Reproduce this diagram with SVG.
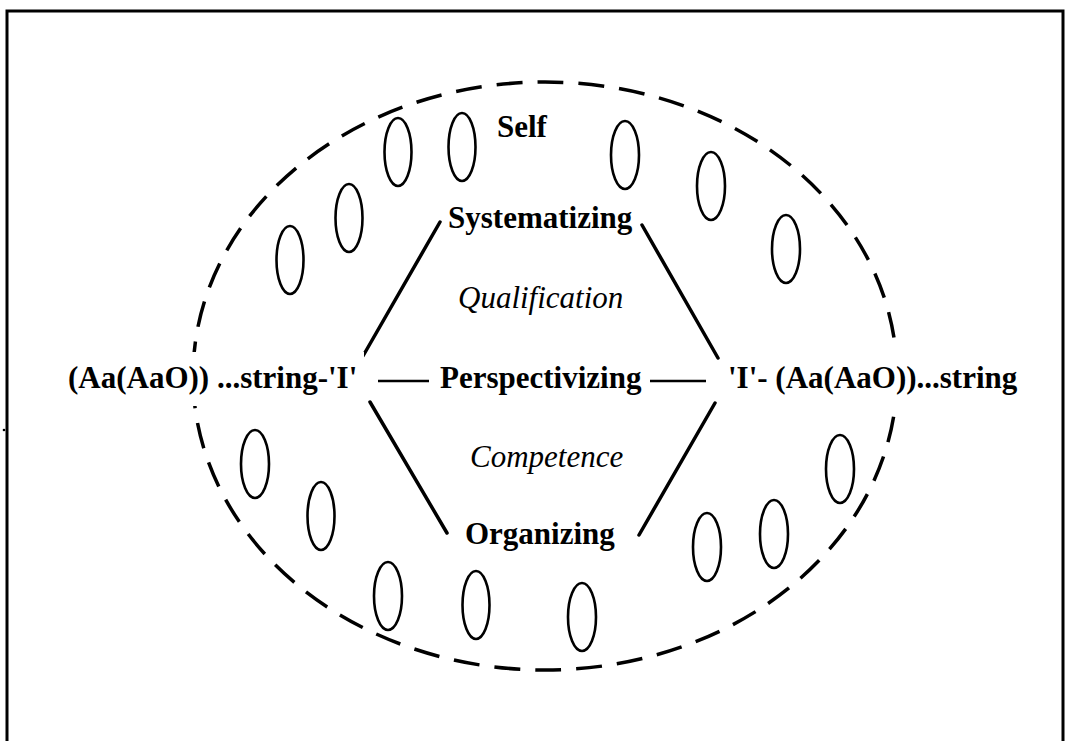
<svg xmlns="http://www.w3.org/2000/svg" width="1077" height="741" viewBox="0 0 1077 741">
<style>
.lbl{font-family:"Liberation Serif","Times New Roman",serif;font-size:31px;fill:#000;font-weight:bold}
.it{font-family:"Liberation Serif","Times New Roman",serif;font-size:31px;fill:#000;font-style:italic}
.oval{fill:none;stroke:#000;stroke-width:2.6}
.edge{stroke:#000;stroke-width:3.5;stroke-linecap:round;fill:none}
.dash{stroke:#000;stroke-width:2.5;fill:none}
.bg{fill:#fff}
</style>
<rect width="1077" height="741" fill="#fff"/>
<g id="frame" fill="none" stroke="#000" stroke-width="3">
<polyline points="7,741 7,11 1063,11 1063,741"/>
</g>
<circle cx="4" cy="430" r="1.3" fill="#000"/>
<g id="self-boundary">
<ellipse cx="545" cy="376" rx="352" ry="294" fill="none" stroke="#000" stroke-width="3.5" stroke-dasharray="26 15"/>
</g>
<g id="elements">
<ellipse class="oval" cx="398" cy="152" rx="13.5" ry="34"/>
<ellipse class="oval" cx="462" cy="147" rx="13.5" ry="34"/>
<ellipse class="oval" cx="349" cy="218" rx="13.5" ry="34"/>
<ellipse class="oval" cx="290" cy="260" rx="13.5" ry="34"/>
<ellipse class="oval" cx="625" cy="155" rx="14" ry="34"/>
<ellipse class="oval" cx="711" cy="186" rx="14" ry="34"/>
<ellipse class="oval" cx="786" cy="249" rx="14" ry="34"/>
<ellipse class="oval" cx="255" cy="464" rx="14" ry="34"/>
<ellipse class="oval" cx="321" cy="516" rx="13.5" ry="34"/>
<ellipse class="oval" cx="388" cy="596" rx="14" ry="34"/>
<ellipse class="oval" cx="476" cy="605" rx="13.5" ry="34"/>
<ellipse class="oval" cx="582" cy="617" rx="14" ry="34"/>
<ellipse class="oval" cx="707" cy="547" rx="14" ry="34"/>
<ellipse class="oval" cx="774" cy="534" rx="14" ry="34"/>
<ellipse class="oval" cx="840" cy="469" rx="14" ry="34"/>
</g>
<g id="connectors">
<line class="edge" x1="440" y1="222" x2="363" y2="356"/>
<line class="edge" x1="642" y1="225" x2="718" y2="358"/>
<line class="edge" x1="370" y1="402" x2="447" y2="533"/>
<line class="edge" x1="715" y1="403" x2="639" y2="535"/>
<line class="dash" x1="378" y1="381" x2="429" y2="381"/>
<line class="dash" x1="650" y1="381" x2="706" y2="381"/>
</g>
<g id="node-self"><text class="lbl" x="497" y="137">Self</text></g>
<g id="node-systematizing"><text class="lbl" x="448" y="228">Systematizing</text></g>
<g id="node-qualification"><text class="it" x="458" y="308">Qualification</text></g>
<g id="node-left-string"><rect class="bg" x="62" y="352" width="302" height="54"/><text class="lbl" x="68" y="388">(Aa(AaO)) ...string-'I'</text></g>
<g id="node-perspectivizing"><text class="lbl" x="440" y="388">Perspectivizing</text></g>
<g id="node-right-string"><rect class="bg" x="722" y="352" width="302" height="54"/><text class="lbl" x="728" y="388">'I'- (Aa(AaO))...string</text></g>
<g id="node-competence"><text class="it" x="470" y="467">Competence</text></g>
<g id="node-organizing"><text class="lbl" x="465" y="544">Organizing</text></g>
</svg>
